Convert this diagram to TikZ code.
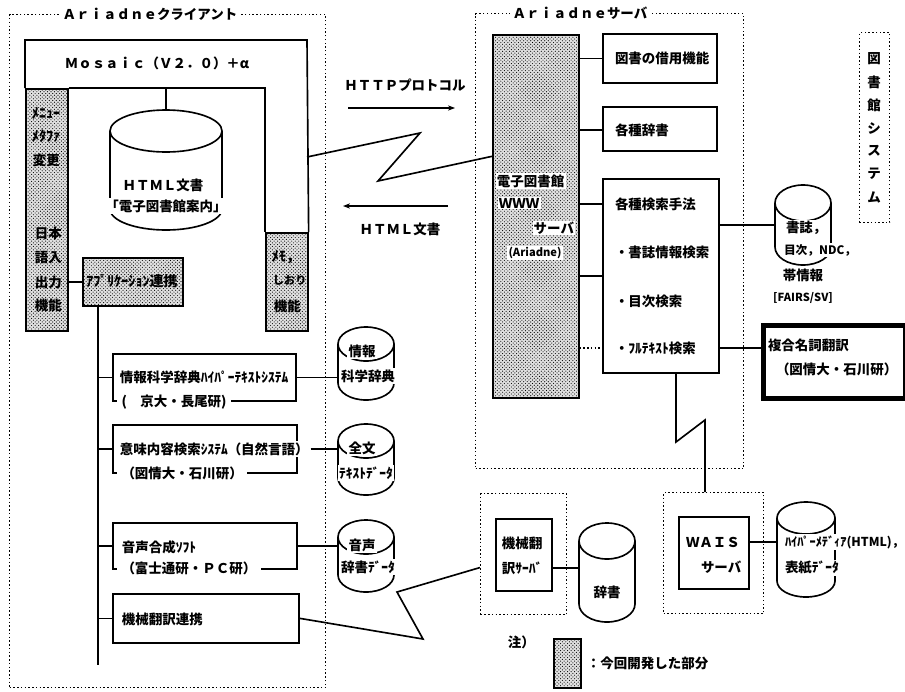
\documentclass[tikz,border=0pt]{standalone}
\usepackage{fontspec}
\setmainfont{Noto Sans CJK JP}
\usepackage{tikz}
\usetikzlibrary{arrows.meta,patterns,calc}

% cylinder: name, centre x, top y, bottom y, x radius, y radius
\newcommand{\dbcyl}[6]{%
  \filldraw[fill=white] (#2-#5,#3+#6) -- (#2-#5,#4-#6)
    arc[start angle=180,end angle=0,x radius=#5,y radius=#6] -- (#2+#5,#3+#6);
  \filldraw[fill=white] (#2,#3+#6) ellipse[x radius=#5,y radius=#6];
  \node[inner sep=0,wh={2*#5}{#4-#3}] (#1) at (#2,{(#3+#4)/2}) {};
}

\tikzset{
  wh/.style 2 args={minimum width=(#1)*0.3mm,minimum height=(#2)*0.3mm},
  box/.style={draw,fill=white,inner sep=0,anchor=north west},
  dev/.style={draw,preaction={fill=black!12},pattern=crosshatch dots,pattern color=black,
    inner sep=0,anchor=north west},
  group/.style={draw,dotted,line width=1.2pt,inner sep=0,anchor=north west},
  lbl/.style={anchor=west,inner sep=1pt},
  mask/.style={fill=white,inner sep=1pt},
  hw/.style={font=\bfseries\fontsize{12}{14}\selectfont},
  small/.style={font=\bfseries\fontsize{9.5}{11}\selectfont},
}

\begin{document}
\begin{tikzpicture}[x=0.3mm,y=-0.3mm,line width=1.4pt,>={Stealth[length=6pt,width=4.5pt]},
  font=\bfseries\fontsize{11.5}{13}\selectfont]
  \useasboundingbox (0,0) rectangle (905,691);

  % dotted frames
  \node[group,wh={316}{673}] (client) at (9,14) {};
  \node[group,wh={268}{455}] (server) at (475,13) {};
  \node[group,wh={30}{190}] (libsys) at (859,32) {};
  \node[group,wh={86}{121}] (mtgrp) at (480,493) {};
  \node[group,wh={100}{121}] (waisgrp) at (663,492) {};
  \node[fill=white,inner sep=2pt] (clienttitle) at (150,14) {Ａｒｉａｄｎｅクライアント};
  \node[fill=white,inner sep=2pt] (servertitle) at (580,13) {Ａｒｉａｄｎｅサーバ};
  \foreach \c [count=\i] in {図,書,館,シ,ス,テ,ム}
    \node (lib\i) at (874,{36+23*\i}) {\c};

  % Mosaic frame
  \node[dev,wh={42}{242}] (lstrip) at (25,88) {};
  \node[dev,wh={42}{98}] (rstrip) at (265,232) {};
  \draw (lstrip.north west) -- (25,40) -- (307,40) -- (rstrip.north east);
  \draw (lstrip.north east) -- (lstrip.north east -| rstrip.west) -- (rstrip.north west);
  \node (mosaic) at (157,63) {Ｍｏｓａｉｃ（Ｖ２．０）＋α};
  \node[lbl,hw] (menu1) at (30,113) {ﾒﾆｭｰ};
  \node[lbl,hw] (menu2) at (30,136) {ﾒﾀﾌｧ};
  \node[lbl] (menu3) at (31,160) {変更};
  \node[lbl] (jp1) at (33,233) {日本};
  \node[lbl] (jp2) at (33,258) {語入};
  \node[lbl] (jp3) at (33,282) {出力};
  \node[lbl] (jp4) at (33,305) {機能};
  \node[lbl,hw] (memo1) at (270,257) {ﾒﾓ，};
  \node[lbl,small] (memo2) at (271,280) {しおり};
  \node[lbl] (memo3) at (272,306) {機能};

  \dbcyl{html}{166}{110}{230}{56}{21}
  \draw (html.north) -- (html.north |- lstrip.north);
  \node (htmldoc) at (163,185) {ＨＴＭＬ文書};
  \node[mask] (htmlguide) at (166,206) {「電子図書館案内」};

  \node[dev,wh={100}{48}] (appl) at (82,257) {};
  \node[hw] (appltext) at (132,281) {ｱﾌﾟﾘｹｰｼｮﾝ連携};
  \draw (lstrip.east |- appl.west) -- (appl.west);

  % applications on the trunk
  \node[box,wh={183}{47}] (app1) at (112,353) {};
  \node[box,wh={184}{48}] (app2) at (112,424) {};
  \node[box,wh={184}{46}] (app3) at (112,522) {};
  \node[box,wh={186}{49}] (app4) at (112,593) {};
  \coordinate (trunkend) at (98,665);
  \draw (appl.south -| trunkend) -- (trunkend);
  \foreach \b in {app1,app2,app3,app4}
    \draw (trunkend |- \b.west) -- (\b.west);
  \node[lbl] (t1a) at (118,377) {情報科学辞典ﾊｲﾊﾟｰﾃｷｽﾄｼｽﾃﾑ};
  \node[lbl,mask,inner xsep=4pt] (t1b) at (116,402) {(　京大・長尾研)};
  \node[lbl,mask] (t2a) at (118,449) {意味内容検索ｼｽﾃﾑ（自然言語）};
  \node[lbl,mask,inner xsep=4pt] (t2b) at (116,473) {（図情大・石川研）};
  \node[lbl] (t3a) at (120,547) {音声合成ｿﾌﾄ};
  \node[lbl,mask,inner xsep=4pt] (t3b) at (116,568) {（富士通研・ＰＣ研）};
  \node[lbl] (t4a) at (120,619) {機械翻訳連携};

  \dbcyl{db1}{366}{327}{400}{28}{17}
  \dbcyl{db2}{366}{424}{495}{28}{17}
  \dbcyl{db3}{366}{520}{592}{28}{17}
  \draw (app1.east) -- (app1.east -| db1.west);
  \draw (t2a.east) -- (t2a.east -| db2.west);
  \draw (app3.east) -- (app3.east -| db3.west);
  \node[mask] (d1a) at (362,351) {情報};
  \node[mask] (d1b) at (368,376) {科学辞典};
  \node[mask] (d2a) at (362,448) {全文};
  \node[mask] (d2b) at (366,473) {ﾃｷｽﾄﾃﾞｰﾀ};
  \node[mask] (d3a) at (362,545) {音声};
  \node[mask] (d3b) at (368,567) {辞書ﾃﾞｰﾀ};

  % HTTP link
  \coordinate (mosaicR) at (307,157);
  \coordinate (h1) at (420,133);
  \coordinate (h2) at (378,181);
  \node (http) at (405,85) {ＨＴＴＰプロトコル};
  \node (htmlret) at (400,229) {ＨＴＭＬ文書};
  \coordinate (ha1) at (348,108);
  \coordinate (ha2) at (455,108);
  \coordinate (hb1) at (448,206);
  \coordinate (hb2) at (343,206);
  \draw[->] (ha1) -- (ha2);
  \draw[->] (hb1) -- (hb2);

  % server side
  \node[dev,wh={86}{363}] (srv) at (492,34) {};
  \draw (mosaicR) -- (h1) -- (h2) -- ([yshift=18mm]srv.west);
  \node[lbl,mask] (s1) at (495,181) {電子図書館};
  \node[lbl,mask] (s2) at (497,203) {ＷＷＷ};
  \node[mask,anchor=east] (s3) at (576,228) {サーバ};
  \node[mask,small] (s4) at (535,253) {(Ariadne)};

  \node[box,wh={114}{49}] (lend) at (602,33) {};
  \node[box,wh={114}{44}] (dict) at (602,106) {};
  \node[box,wh={116}{194}] (search) at (602,178) {};
  \node[lbl] (lendt) at (613,58) {図書の借用機能};
  \node[lbl] (dictt) at (613,130) {各種辞書};
  \node[lbl] (kind) at (613,204) {各種検索手法};
  \node[lbl] (biblio) at (613,252) {・書誌情報検索};
  \node[lbl] (toc) at (613,301) {・目次検索};
  \node[lbl] (full) at (613,348) {・ﾌﾙﾃｷｽﾄ検索};
  \draw (srv.east |- lend.west) -- (lend.west);
  \draw (srv.east |- dictt.west) -- (dict.west |- dictt.west);
  \draw (srv.east |- kind.west) -- (search.west |- kind.west);
  \draw (srv.east |- search.west) -- (search.west);
  \draw[dotted,line width=1.2pt] (srv.east |- full.west) -- (search.west |- full.west);

  \dbcyl{bib}{803}{185}{265}{28}{18}
  \draw (search.east |- bib.west) -- (bib.west);
  \node[lbl,mask] (b1) at (784,228) {書誌，};
  \node[lbl,mask,font=\bfseries\fontsize{10}{12}\selectfont] (b2) at (782,250) {目次，NDC，};
  \node[mask] (b3) at (803,275) {帯情報};
  \node[small] (b4) at (803,298) {[FAIRS/SV]};

  \node[draw,line width=4pt,anchor=north west,wh={142}{73}] (cmp) at (761,323) {};
  \draw (search.east |- full.east) -- (cmp.west |- full.east);
  \node[lbl] (cmp1) at (766,345) {複合名詞翻訳};
  \node[lbl] (cmp2) at (774,369) {（図情大・石川研）};

  % WAIS
  \coordinate (z1) at (676,442);
  \coordinate (z2) at (705,420);
  \draw (search.south -| z1) -- (z1) -- (z2) -- (z2 |- waisgrp.north);
  \node[box,wh={70}{72}] (wais) at (678,516) {};
  \node[lbl] (wais1) at (684,542) {ＷＡＩＳ};
  \node[lbl] (wais2) at (699,567) {サーバ};
  \dbcyl{hyp}{806}{502}{597}{29}{16}
  \draw (wais.east |- wais1.west) -- (hyp.west |- wais1.west);
  \node[lbl,mask,font=\bfseries\fontsize{10.5}{12}\selectfont] (hyp1) at (783,542) {ﾊｲﾊﾟｰﾒﾃﾞｨｱ(HTML)，};
  \node[lbl,mask] (hyp2) at (783,568) {表紙ﾃﾞｰﾀ};

  % machine translation
  \node[box,wh={56}{72}] (mt) at (495,518) {};
  \node[lbl] (mt1) at (500,543) {機械翻};
  \node[lbl] (mt2) at (500,568) {訳ｻｰﾊﾞ};
  \dbcyl{jisho}{607}{523}{622}{28}{18}
  \draw (mt.east |- mt2.west) -- (jisho.west |- mt2.west);
  \node (jisho1) at (607,592) {辞書};
  \coordinate (m1) at (423,639);
  \coordinate (m2) at (397,592);
  \draw (app4.east) -- (m1) -- (m2) -- ([yshift=-4mm]mtgrp.west);

  % legend
  \node[lbl] (note) at (506,642) {注）};
  \node[dev,wh={27}{49}] (legend) at (553,638) {};
  \node[lbl] (legendt) at (585,663) {：今回開発した部分};
\end{tikzpicture}
\end{document}
